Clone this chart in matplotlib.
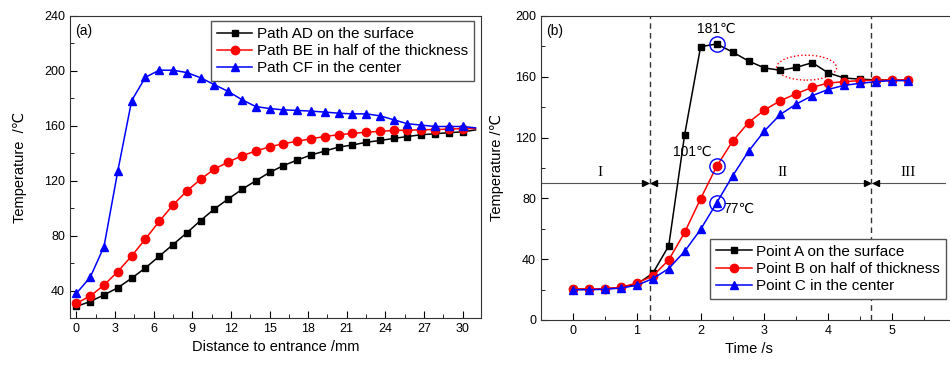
import numpy as np
import matplotlib
matplotlib.use("Agg")
import matplotlib.pyplot as plt
from matplotlib.patches import Ellipse
from matplotlib.ticker import MultipleLocator

plt.rcParams['font.family'] = ['Liberation Sans', 'DejaVu Sans']

# (a) temperature along paths
dist = [0, 1.07, 2.14, 3.21, 4.29, 5.36, 6.43, 7.5, 8.57, 9.64, 10.71, 11.79, 12.86, 13.93,
        15, 16.07, 17.14, 18.21, 19.29, 20.36, 21.43, 22.5, 23.57, 24.64, 25.71, 26.79,
        27.86, 28.93, 30, 31]
path_ad = [28.4, 32, 36.8, 42, 49, 56.5, 65, 73.5, 82, 91, 99.4, 106.7, 113.7, 120, 126,
           131, 135, 138.7, 141.6, 144.5, 146, 148, 149.3, 150.8, 152.2, 153.5, 154.2, 155,
           155.6, 157]
path_be = [30.8, 35.9, 44, 53.8, 65.2, 77.6, 90.4, 102.3, 112.5, 121, 128.5, 133.6, 138.2,
           141.6, 144.7, 146.9, 148.8, 150.5, 152.2, 153.5, 154.4, 155.4, 155.9, 156.6,
           156.8, 157.1, 157.3, 157.6, 158, 158]
path_cf = [38, 49.7, 72, 127, 178.4, 195.4, 200.5, 200.5, 198.8, 195, 190, 185, 179, 174,
           172.6, 171.6, 171.2, 170.7, 170, 169.2, 168.7, 168.7, 167.3, 164.4, 161.5, 160.5,
           159.5, 159.5, 159.5, 158.5]

# (b) temperature history at points
time_s = [0, 0.25, 0.5, 0.75, 1, 1.25, 1.5, 1.75, 2, 2.25, 2.5, 2.75, 3, 3.25, 3.5, 3.75,
          4, 4.25, 4.5, 4.75, 5, 5.25]
point_a = [20.2, 20.2, 20.4, 21.5, 23.5, 30.7, 48.7, 122, 179.8, 181.6, 176.3, 170.4, 165.8,
           164.3, 166.2, 169.3, 162.5, 159.2, 158.4, 158, 157.7, 157.7]
point_b = [20.4, 20.4, 20.6, 21.5, 24.3, 28.9, 39.5, 57.6, 79.8, 101, 117.6, 129.9, 138.2,
           144.3, 148.9, 153.1, 155.9, 156.8, 157.5, 157.7, 158, 158]
point_c = [19.9, 19.9, 20.2, 21, 22.8, 27.2, 33.8, 45.2, 59.6, 77, 94.7, 111, 124.4, 135.3,
           142.1, 147.6, 151.7, 154.4, 155.7, 156.8, 157.5, 157.5]

stage_bounds = [1.2, 4.67]
stage_names = ['I', 'II', 'III']
stage_x = [0.42, 3.29, 5.25]

fig = plt.figure(figsize=(9.5, 3.65), dpi=100)
ax1 = fig.add_axes([0.0737, 0.1288, 0.4323, 0.8274])
ax2 = fig.add_axes([0.5695, 0.1233, 0.4368, 0.8329])

lw = 1.1
n_mark = list(range(len(dist) - 1))
ax1.plot(dist, path_ad, color='black', marker='s', ms=5, lw=lw, markevery=n_mark,
         label='Path AD on the surface')
ax1.plot(dist, path_be, color='red', marker='o', ms=6, lw=lw, markevery=n_mark,
         label='Path BE in half of the thickness')
ax1.plot(dist, path_cf, color='blue', marker='^', ms=6, lw=lw, markevery=n_mark,
         label='Path CF in the center')
ax1.set_xlim(-0.5, 31.4)
ax1.set_ylim(20, 240)
ax1.xaxis.set_major_locator(MultipleLocator(3))
ax1.xaxis.set_minor_locator(MultipleLocator(1.5))
ax1.yaxis.set_minor_locator(MultipleLocator(20))
ax1.set_yticks([40, 80, 120, 160, 200, 240])
ax1.set_xlabel('Distance to entrance /mm', fontsize=10.5)
ax1.set_ylabel('Temperature  /℃', fontsize=10.5, labelpad=12)
ax1.text(0.012, 0.975, '(a)', transform=ax1.transAxes, fontsize=10, va='top')
ax1.legend(loc='upper right', bbox_to_anchor=(0.984, 0.983), borderaxespad=0,
           fontsize=11, labelspacing=0.2, handlelength=2.3, handletextpad=0.3,
           fancybox=False, edgecolor='#555555', framealpha=1)

ax2.plot(time_s, point_a, color='black', marker='s', ms=5, lw=lw, label='Point A on the surface')
ax2.plot(time_s, point_b, color='red', marker='o', ms=6, lw=lw, label='Point B on half of thickness')
ax2.plot(time_s, point_c, color='blue', marker='^', ms=6, lw=lw, label='Point C in the center')
ax2.set_xlim(-0.5, 6.0)
ax2.set_ylim(0, 200)
ax2.set_xticks([0, 1, 2, 3, 4, 5])
ax2.xaxis.set_minor_locator(MultipleLocator(0.5))
ax2.yaxis.set_major_locator(MultipleLocator(40))
ax2.yaxis.set_minor_locator(MultipleLocator(20))
ax2.set_xlabel('Time /s', fontsize=10.5)
ax2.set_ylabel('Temperature /℃', fontsize=10.5, labelpad=8)
ax2.text(0.012, 0.975, '(b)', transform=ax2.transAxes, fontsize=10, va='top')

# stage lines and labels
for xb in stage_bounds:
    ax2.axvline(xb, color='#333333', ls=(0, (4, 3)), lw=1.0, zorder=1)
    ax2.plot([xb - 0.07], [90], marker='>', color='black', ms=4, zorder=4)
    ax2.plot([xb + 0.07], [90], marker='<', color='black', ms=4, zorder=4)
ax2.plot([-0.5, 5.83], [90, 90], color='#555555', lw=0.8, zorder=1)
for name, xs in zip(stage_names, stage_x):
    ax2.text(xs, 93, name, family=['Liberation Serif', 'DejaVu Serif'], fontsize=11,
             ha='center', va='bottom')

# highlighted points
ax2.plot([2.25, 2.25, 2.25], [181.6, 101, 77], ls='none', marker='o', ms=11, mfc='none',
         mec='blue', mew=1.0, zorder=5)
ax2.text(2.25, 187, '181℃', fontsize=10, ha='center', va='bottom')
ax2.text(2.17, 106, '101℃', fontsize=10, ha='right', va='bottom')
ax2.text(2.36, 73, '77℃', fontsize=10, ha='left', va='center')
ax2.add_patch(Ellipse((3.66, 166), 0.94, 16.4, fill=False, ec='red', ls=':', lw=1.0))

ax2.legend(loc='lower right', bbox_to_anchor=(0.976, 0.069), borderaxespad=0,
           fontsize=11, labelspacing=0.2, handlelength=2.3, handletextpad=0.3,
           fancybox=False, edgecolor='#555555', framealpha=1)

for ax in (ax1, ax2):
    ax.tick_params(which='both', direction='in', labelsize=9, top=False, right=False)
    ax.tick_params(which='major', length=5)
    ax.tick_params(which='minor', length=3)
    for sp in ax.spines.values():
        sp.set_color('#333333')

fig.savefig('out.png', dpi=100)
